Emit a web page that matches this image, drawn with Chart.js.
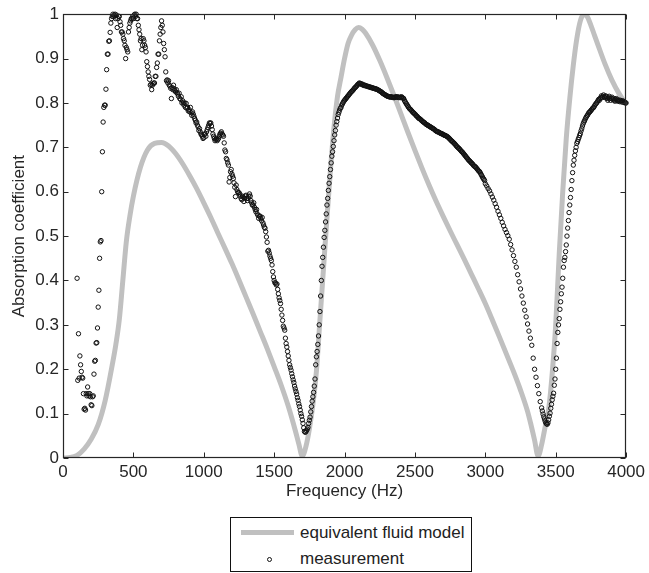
<!DOCTYPE html>
<html>
<head>
<meta charset="utf-8">
<script src="https://cdn.jsdelivr.net/npm/chart.js@4.4.1/dist/chart.umd.min.js"></script>
<style>
  body { margin: 0; background: #fff; }
  #wrap { position: relative; width: 649px; height: 573px; }
  #c { position: absolute; left: 0; top: 0; }
  #legend {
    position: absolute; left: 230px; top: 517px; width: 240px; height: 53px;
    border: 1px solid #111; background: #fff;
    font-family: "Liberation Sans", Arial, Helvetica, sans-serif; font-size: 17px; color: #222;
  }
  .row { position: absolute; left: 0; width: 100%; height: 20px; }
  .row span { position: absolute; left: 69px; top: 0; line-height: 20px; white-space: nowrap; }
  .bar { position: absolute; left: 10px; top: 7px; width: 53px; height: 5px; background: #c0c0c0; }
  .dot { position: absolute; left: 36px; top: 8px; width: 3px; height: 3px; border: 1px solid #111; border-radius: 50%; }
</style>
</head>
<body>
<div id="wrap">
  <canvas id="c" width="649" height="573"></canvas>
  <div id="legend">
    <div class="row" style="top:5px"><div class="bar"></div><span>equivalent fluid model</span></div>
    <div class="row" style="top:31px"><div class="dot"></div><span>measurement</span></div>
  </div>
</div>
<script>
// equivalent fluid model (gray curve)
const modelFreq = [0,50,100,150,200,250,300,350,375,400,425,450,475,500,550,600,650,700,750,800,850,900,950,
  1000,1050,1100,1150,1200,1250,1300,1350,1400,1450,1500,1550,1600,1650,
  1675,1700,1725,1750,1775,1800,1825,1850,1875,1900,1925,1950,1975,2000,2025,2050,2075,2100,2125,2150,
  2200,2250,2300,2350,2400,2450,2500,2550,2600,2650,2700,2750,2800,2850,2900,2950,3000,3050,3100,3150,3200,3250,3300,
  3325,3350,3375,3400,3425,3450,3475,3500,3525,3550,3575,3600,3625,3650,3675,3700,3725,3750,3775,
  3800,3850,3900,3950,4000];
const modelAbs = [0,0.001,0.006,0.02,0.042,0.075,0.13,0.21,0.255,0.312,0.4,0.488,0.545,0.59,0.655,0.694,0.709,0.711,0.703,0.686,0.663,0.636,0.607,
  0.575,0.542,0.507,0.473,0.438,0.401,0.363,0.325,0.286,0.247,0.206,0.164,0.117,0.062,
  0.032,0.004,0.025,0.065,0.12,0.195,0.31,0.425,0.54,0.65,0.745,0.815,0.858,0.9,0.934,0.953,0.965,0.97,0.966,0.957,
  0.93,0.896,0.858,0.818,0.776,0.734,0.693,0.653,0.615,0.579,0.545,0.512,0.48,0.448,0.415,0.382,0.348,0.311,0.273,0.234,0.195,0.153,0.105,
  0.074,0.04,0.004,0.03,0.07,0.11,0.19,0.3,0.46,0.6,0.72,0.81,0.885,0.945,0.985,1.0,0.994,0.975,0.953,
  0.931,0.888,0.851,0.821,0.797];

// measurement, read in runs (start Hz, step Hz)
const measLowStart = 100, measLowStep = 5;
const measLowAbs = [
  0.405,0.175,0.28,0.18,0.23,0.21,0.195,0.182,0.18,0.145,
  0.11,0.112,0.108,0.145,0.14,0.16,0.145,0.14,0.145,0.138,
  0.12,0.118,0.138,0.14,0.189,0.218,0.22,0.259,0.26,0.293,
  0.34,0.378,0.45,0.487,0.49,0.60,0.69,0.757,0.79,0.795,
  0.795,0.831,0.875,0.91,0.91,0.939,0.94,0.959,0.98,0.99,
  0.995,1.0,0.995,0.998,1.0,0.99,0.998,0.97,0.99,0.995,
  0.995,0.983,0.975,0.96,0.96,0.955,0.945,0.94,0.93,0.90,
  0.925,0.92,0.915,0.96,0.97,0.98,0.985,0.99,0.99,0.995,
  0.99,0.998,1.0,0.995,1.0,0.99,0.99,0.975,0.965,0.955,
  0.94,0.945,0.92,0.93,0.945,0.94,0.93,0.925,0.915,0.893,
  0.882,0.87,0.86,0.853,0.84,0.842,0.83,0.84,0.843,0.845,
  0.845,0.86,0.86,0.88,0.89,0.91,0.91,0.94,0.955,0.97,
  0.985,0.975,0.96,0.934,0.92,0.904,0.87,0.85,0.852,0.845,
  0.85,0.84,0.838,0.833,0.81,0.835,0.83,0.84,0.832,0.828,
  0.825,0.83,0.823,0.82,0.815,0.822,0.81,0.808,0.814,0.80,
  0.805,0.80,0.795,0.80,0.79,0.799,0.788,0.79,0.782,0.785,
  0.78,0.79,0.778,0.772,0.78,0.775,0.77,0.765,0.761,0.755,
  0.757,0.75,0.746,0.738,0.742,0.735,0.73,0.728,0.725,0.72,
  0.722,0.73,0.73,0.725,0.735,0.74,0.745,0.75,0.755,0.754,
  0.755,0.748,0.74,0.73,0.725,0.72,0.715,0.718,0.72,0.715,
  0.718,0.72,0.725,0.73,0.732,0.735,0.73,0.728,0.725,0.71,
  0.694,0.69,0.675,0.672,0.665,0.66,0.622,0.632,0.645,0.65,
  0.64,0.635,0.63,0.62,0.61,0.589,0.615,0.605,0.60,0.598,
  0.598,0.595,0.59,0.585,0.582,0.59,0.588,0.578,0.585,0.59,
  0.592,0.585,0.58,0.585,0.59,0.595,0.59,0.58,0.575,0.57,
  0.57,0.575,0.565,0.56,0.555,0.56,0.55,0.547,0.54,0.545,
  0.545,0.54,0.535,0.542,0.53,0.525,0.52,0.518,0.51,0.498,
  0.486,0.466,0.468,0.462,0.455,0.45,0.445,0.435,0.42,0.408,
  0.40,0.395,0.394,0.39,0.392,0.38,0.37,0.361,0.355,0.348,
  0.335,0.322,0.31,0.297,0.293,0.288,0.27,0.258,0.25,0.24,
  0.23,0.22,0.21,0.204,0.198,0.19,0.183,0.176,0.17,0.162,
  0.156,0.15,0.144,0.136,0.13,0.122,0.116,0.108,0.1,0.094,
  0.086,0.078,0.068,0.06,0.058,0.059,0.062,0.065,0.069,0.078,
  0.085,0.092,0.104,0.116,0.128,0.138,0.148,0.162,0.178,0.21,
  0.228,0.24,0.256,0.275,0.3,0.33,0.365,0.4,0.432,0.452,
  0.475,0.497,0.513,0.532,0.55,0.57,0.585,0.603,0.619,0.634,
  0.65,0.665,0.68,0.69,0.702,0.715,0.728,0.738,0.75,0.758,
  0.766,0.774,0.779,0.784,0.788,0.79,0.795,0.798,0.801,0.804
];
const measBandStart = 2000, measBandStep = 5;
const measBandAbs = [
  0.806,0.808,0.81,0.812,0.814,0.816,0.818,0.82,0.822,0.824,
  0.826,0.827,0.829,0.831,0.833,0.835,0.836,0.838,0.84,0.842,
  0.843,0.845,0.844,0.843,0.843,0.841,0.842,0.84,0.839,0.84,
  0.839,0.838,0.838,0.837,0.837,0.836,0.836,0.835,0.835,0.834,
  0.834,0.833,0.833,0.832,0.832,0.831,0.831,0.83,0.829,0.828,
  0.827,0.826,0.825,0.824,0.822,0.821,0.82,0.819,0.818,0.817,
  0.816,0.815,0.815,0.814,0.814,0.813,0.814,0.813,0.813,0.812,
  0.813,0.812,0.813,0.814,0.813,0.814,0.813,0.812,0.813,0.812,
  0.813,0.814,0.812,0.811,0.81,0.806,0.803,0.8,0.798,0.795,
  0.793,0.79,0.788,0.786,0.785,0.783,0.781,0.779,0.778,0.776,
  0.775,0.773,0.771,0.77,0.768,0.766,0.765,0.764,0.763,0.761,
  0.76,0.758,0.757,0.756,0.755,0.753,0.752,0.751,0.75,0.749,
  0.748,0.747,0.746,0.745,0.744,0.743,0.742,0.741,0.74,0.738,
  0.737,0.736,0.735,0.735,0.734,0.733,0.732,0.731,0.731,0.73,
  0.729,0.728,0.727,0.727,0.726,0.725,0.724,0.723,0.721,0.72,
  0.718,0.716,0.715,0.713,0.712,0.71,0.709,0.707,0.705,0.703,
  0.701,0.7,0.698,0.697,0.695,0.693,0.691,0.69,0.688,0.686,
  0.684,0.682,0.68,0.678,0.676,0.674,0.672,0.67,0.669,0.667,
  0.665,0.664,0.662,0.66,0.658,0.657,0.656,0.654,0.652,0.65,
  0.648,0.646,0.645,0.642,0.639,0.636,0.633,0.63,0.628,0.625
];
const measDropStart = 3000, measDropStep = 10;
const measDropAbs = [
  0.618,0.613,0.607,0.602,0.595,0.588,0.581,0.573,0.565,0.556,
  0.548,0.54,0.531,0.523,0.515,0.508,0.501,0.493,0.481,0.469,
  0.456,0.443,0.43,0.413,0.397,0.381,0.365,0.349,0.333,0.318,
  0.302,0.286,0.27,0.254,0.225,0.2,0.182,0.163,0.145,0.127
];
const measHighStart = 3400, measHighStep = 5;
const measHighAbs = [
  0.113,0.106,0.099,0.093,0.088,0.083,0.079,0.077,0.076,0.079,
  0.086,0.094,0.101,0.112,0.121,0.131,0.139,0.146,0.164,0.178,
  0.2,0.225,0.258,0.283,0.3,0.314,0.335,0.352,0.37,0.385,
  0.405,0.43,0.445,0.452,0.465,0.48,0.5,0.518,0.535,0.553,
  0.57,0.587,0.605,0.625,0.643,0.66,0.671,0.682,0.692,0.7,
  0.709,0.713,0.718,0.722,0.727,0.731,0.737,0.742,0.748,0.753,
  0.757,0.76,0.764,0.767,0.77,0.772,0.775,0.778,0.779,0.781,
  0.783,0.785,0.787,0.789,0.79,0.793,0.796,0.798,0.8,0.802,
  0.805,0.808,0.806,0.81,0.812,0.816,0.812,0.815,0.818,0.814,
  0.812,0.816,0.814,0.81,0.806,0.812,0.815,0.81,0.806,0.81,
  0.813,0.808,0.81,0.806,0.804,0.808,0.81,0.806,0.804,0.807,
  0.805,0.803,0.806,0.804,0.802,0.805,0.803,0.801,0.802,0.8,
  0.8
];

const xTicks = [0,500,1000,1500,2000,2500,3000,3500,4000];
const xTickLabels = ['0','500','1000','1500','2000','2500','3000','3500','4000'];
const yTicks = [0,0.1,0.2,0.3,0.4,0.5,0.6,0.7,0.8,0.9,1];
const yTickLabels = ['0','0.1','0.2','0.3','0.4','0.5','0.6','0.7','0.8','0.9','1'];

function runPoints(start, step, vals) {
  return vals.map(function (v, i) { return { x: start + i * step, y: v }; });
}
const measPoints = runPoints(measLowStart, measLowStep, measLowAbs)
  .concat(runPoints(measBandStart, measBandStep, measBandAbs))
  .concat(runPoints(measDropStart, measDropStep, measDropAbs))
  .concat(runPoints(measHighStart, measHighStep, measHighAbs));
const modelPoints = modelFreq.map(function (f, i) { return { x: f, y: modelAbs[i] }; });

const FONT = '"Liberation Sans", Arial, Helvetica, sans-serif';
const INK = '#262626';

// MATLAB style box with inward ticks
const frame = {
  id: 'frame',
  afterDraw(chart) {
    const ctx = chart.ctx, a = chart.chartArea;
    const xs = chart.scales.x, ys = chart.scales.y;
    const L = Math.round(a.left) + 0.5, R = Math.round(a.right) - 0.5;
    const T = Math.round(a.top) + 0.5, B = Math.round(a.bottom) - 0.5;
    ctx.save();
    ctx.strokeStyle = INK;
    ctx.lineWidth = 1.2;
    ctx.strokeRect(L, T, R - L, B - T);
    ctx.lineWidth = 1;
    ctx.beginPath();
    xTicks.forEach(function (t) {
      const px = Math.round(xs.getPixelForValue(t)) + 0.5;
      ctx.moveTo(px, B); ctx.lineTo(px, B - 5);
      ctx.moveTo(px, T); ctx.lineTo(px, T + 5);
    });
    yTicks.forEach(function (t) {
      const py = Math.round(ys.getPixelForValue(t)) + 0.5;
      ctx.moveTo(L, py); ctx.lineTo(L + 5, py);
      ctx.moveTo(R, py); ctx.lineTo(R - 5, py);
    });
    ctx.stroke();
    ctx.restore();
  }
};

new Chart(document.getElementById('c'), {
  type: 'scatter',
  data: {
    datasets: [
      {
        label: 'equivalent fluid model',
        data: modelPoints,
        showLine: true,
        borderColor: '#c0c0c0',
        borderWidth: 5,
        pointRadius: 0,
        cubicInterpolationMode: 'monotone',
        order: 2
      },
      {
        label: 'measurement',
        data: measPoints,
        pointRadius: 2.2,
        pointBorderWidth: 1,
        borderColor: '#111',
        backgroundColor: 'rgba(0,0,0,0)',
        clip: false,
        order: 1
      }
    ]
  },
  options: {
    responsive: false,
    animation: false,
    devicePixelRatio: 1,
    layout: { padding: { left: 0, right: 20, top: 13, bottom: 68 } },
    plugins: { legend: { display: false }, tooltip: { enabled: false } },
    scales: {
      x: {
        type: 'linear', min: 0, max: 4000,
        afterBuildTicks: function (s) { s.ticks = xTicks.map(function (v) { return { value: v }; }); },
        afterFit: function (s) { s.height = 47; },
        grid: { display: false, drawTicks: false },
        border: { display: false },
        ticks: {
          color: INK, font: { family: FONT, size: 17 }, padding: 4, maxRotation: 0,
          callback: function (v) { return xTickLabels[xTicks.indexOf(v)]; }
        },
        title: { display: true, text: 'Frequency (Hz)', color: INK, font: { family: FONT, size: 17 }, padding: { top: 0, bottom: 3 } }
      },
      y: {
        type: 'linear', min: 0, max: 1,
        afterBuildTicks: function (s) { s.ticks = yTicks.map(function (v) { return { value: v }; }); },
        afterFit: function (s) { s.width = 63; },
        grid: { display: false, drawTicks: false },
        border: { display: false },
        ticks: {
          color: INK, font: { family: FONT, size: 17 }, padding: 4,
          callback: function (v) { return yTickLabels[yTicks.indexOf(v)]; }
        },
        title: { display: true, text: 'Absorption coefficient', color: INK, font: { family: FONT, size: 17 }, padding: { top: 9, bottom: 0 } }
      }
    }
  },
  plugins: [frame]
});
</script>
</body>
</html>
